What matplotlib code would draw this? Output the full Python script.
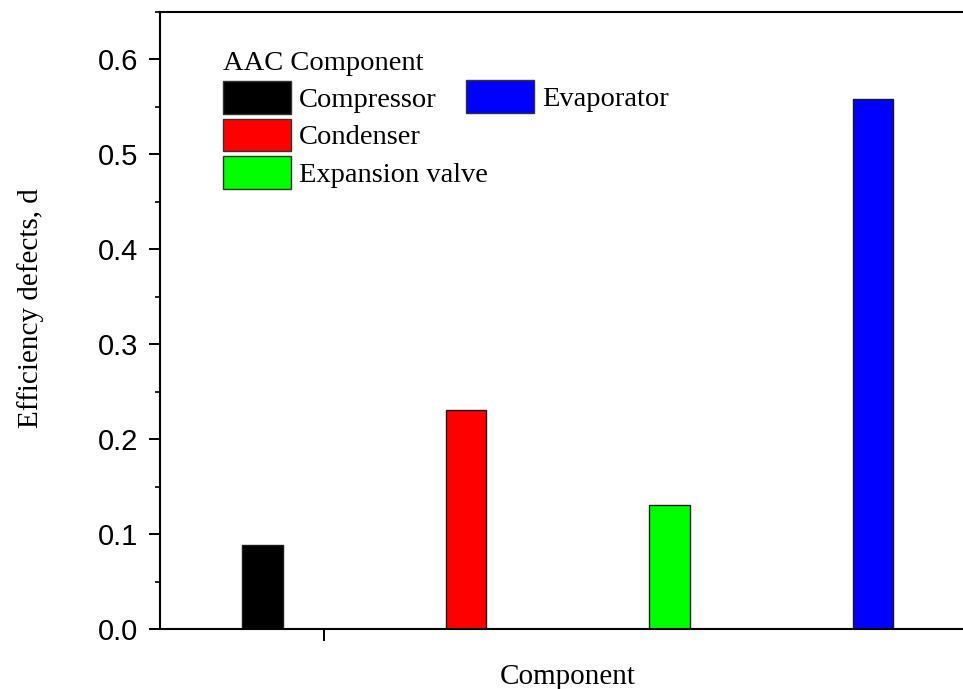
import numpy as np
import matplotlib
matplotlib.use('Agg')
import matplotlib.pyplot as plt
from matplotlib.patches import Patch
from matplotlib.ticker import MultipleLocator

components = ['Compressor', 'Condenser', 'Expansion valve', 'Evaporator']
defects = [0.089, 0.231, 0.131, 0.558]
colors = ['#000000', '#ff0000', '#00ff00', '#0000ff']

serif = 'Liberation Serif'
sans = 'Liberation Sans'

W, H = 963, 689
fig = plt.figure(figsize=[W/100, H/100], dpi=100)
# axes box in pixels: left spine x=160, top y=12, bottom y=629, runs off the right edge
ax = fig.add_axes([160/W, (H-629)/H, (1000-160)/W, (629-12)/H])

x = np.arange(len(components))
ax.bar(x, defects, width=0.2, color=colors, edgecolor='#1a1a1a', linewidth=1.0)

ax.set_xlim((160-262.5)/203.5, (1000-262.5)/203.5)
ax.set_ylim(0, 0.65)
ax.set_xticks([0.3])
ax.set_xticklabels([''])
ax.yaxis.set_major_locator(MultipleLocator(0.1))
ax.yaxis.set_minor_locator(MultipleLocator(0.05))
ax.yaxis.set_major_formatter(matplotlib.ticker.FormatStrFormatter('%.1f'))

for s in ['left', 'bottom', 'top']:
    ax.spines[s].set_linewidth(1.5)
ax.spines['right'].set_visible(False)
ax.tick_params(axis='y', which='major', direction='out', length=8, width=1.4, pad=7.5)
ax.tick_params(axis='y', which='minor', direction='out', length=3.6, width=1.2)
ax.tick_params(axis='x', which='major', direction='out', length=8.5, width=1.4)
for lab in ax.get_yticklabels():
    lab.set_fontfamily(sans)
    lab.set_fontsize(21)

ax.set_xlabel('Component', fontfamily=serif, fontsize=21)
ax.xaxis.set_label_coords((567.5-160)/840, (629-664)/617)
ax.set_ylabel('Efficiency defects, d', fontfamily=serif, fontsize=21)
ax.yaxis.set_label_coords((44-160)/840, (629-308)/617)

handles = [Patch(facecolor=c, edgecolor='#333333', linewidth=1.0) for c in colors]
leg_font = {'family': serif, 'size': 20.5}
leg1 = ax.legend(handles[:3], components[:3], title='AAC Component', title_fontproperties=leg_font,
                 prop=leg_font, frameon=False, loc='upper left', alignment='left',
                 bbox_to_anchor=(223/W, 1-51/H), bbox_transform=fig.transFigure,
                 borderpad=0, borderaxespad=0, handlelength=2.39, handleheight=1.4,
                 handletextpad=0.28, labelspacing=0.17)
ax.add_artist(leg1)
ax.legend(handles[3:], components[3:], prop=leg_font, frameon=False, loc='upper left',
          bbox_to_anchor=(466/W, 1-80/H), bbox_transform=fig.transFigure,
          borderpad=0, borderaxespad=0, handlelength=2.39, handleheight=1.4,
          handletextpad=0.28)

plt.savefig('out.png', dpi=100)
